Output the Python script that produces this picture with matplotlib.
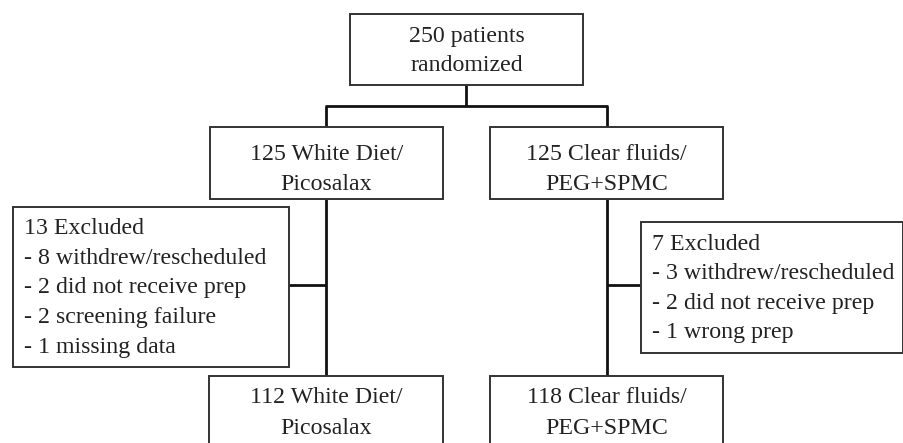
import matplotlib
matplotlib.use("Agg")
import matplotlib.pyplot as plt
from matplotlib.patches import Rectangle

# ---- content ----
top_text = ["250 patients", "randomized"]
arm_left_text = ["125 White Diet/", "Picosalax"]
arm_right_text = ["125 Clear fluids/", "PEG+SPMC"]
excl_left_text = ["13 Excluded", "- 8 withdrew/rescheduled", "- 2 did not receive prep",
                  "- 2 screening failure", "- 1 missing data"]
excl_right_text = ["7 Excluded", "- 3 withdrew/rescheduled", "- 2 did not receive prep",
                   "- 1 wrong prep"]
final_left_text = ["112 White Diet/", "Picosalax"]
final_right_text = ["118 Clear fluids/", "PEG+SPMC"]

W, H = 904, 443
fig = plt.figure(figsize=(W / 100, H / 100), dpi=100)
ax = fig.add_axes([0, 0, 1, 1])
ax.set_xlim(0, W)
ax.set_ylim(H, 0)
ax.axis("off")

FONT = "Liberation Serif"
FS = 17.2
BOX_LW = 1.4
BOX_EC = "#333333"
LINE_LW = 2.0
LINE_C = "#111111"
DY = 2.5


def box(x0, y0, x1, y1):
    ax.add_patch(Rectangle((x0, y0), x1 - x0, y1 - y0, fill=True, fc="white",
                           ec=BOX_EC, lw=BOX_LW, zorder=2, clip_on=True))


def lines_center(lines, xc, y_first, step):
    for i, t in enumerate(lines):
        ax.text(xc, y_first + DY + i * step, t, ha="center", va="center",
                fontsize=FS, family=FONT, color="#222222", zorder=3)


def lines_left(lines, x, y_first, step):
    for i, t in enumerate(lines):
        ax.text(x, y_first + DY + i * step, t, ha="left", va="center",
                fontsize=FS, family=FONT, color="#222222", zorder=3)


def seg(xs, ys):
    ax.plot(xs, ys, color=LINE_C, lw=LINE_LW, solid_capstyle="butt", zorder=1)


# connectors
seg([466.5, 466.5], [85, 106])
seg([325, 608], [106, 106])
seg([326, 326], [106, 127])
seg([607, 607], [106, 127])
seg([326, 326], [199, 376])
seg([607, 607], [199, 376])
seg([289, 326], [285, 285])
seg([607, 641], [285, 285])

# boxes
box(350, 14, 583, 85)
lines_center(top_text, 466.5, 34, 28.5)

box(210, 127, 443, 199)
lines_center(arm_left_text, 326.5, 152, 30)
box(490, 127, 723, 199)
lines_center(arm_right_text, 606.5, 152, 30)

box(13, 207, 289, 367)
lines_left(excl_left_text, 24, 226, 29.7)
box(641, 222, 903, 353)
lines_left(excl_right_text, 652, 242, 29.3)

box(209, 376, 443, 470)
lines_center(final_left_text, 326, 395, 31)
box(490, 376, 723, 470)
lines_center(final_right_text, 606.5, 395, 31)

fig.savefig("out.png", dpi=100, facecolor="white")
